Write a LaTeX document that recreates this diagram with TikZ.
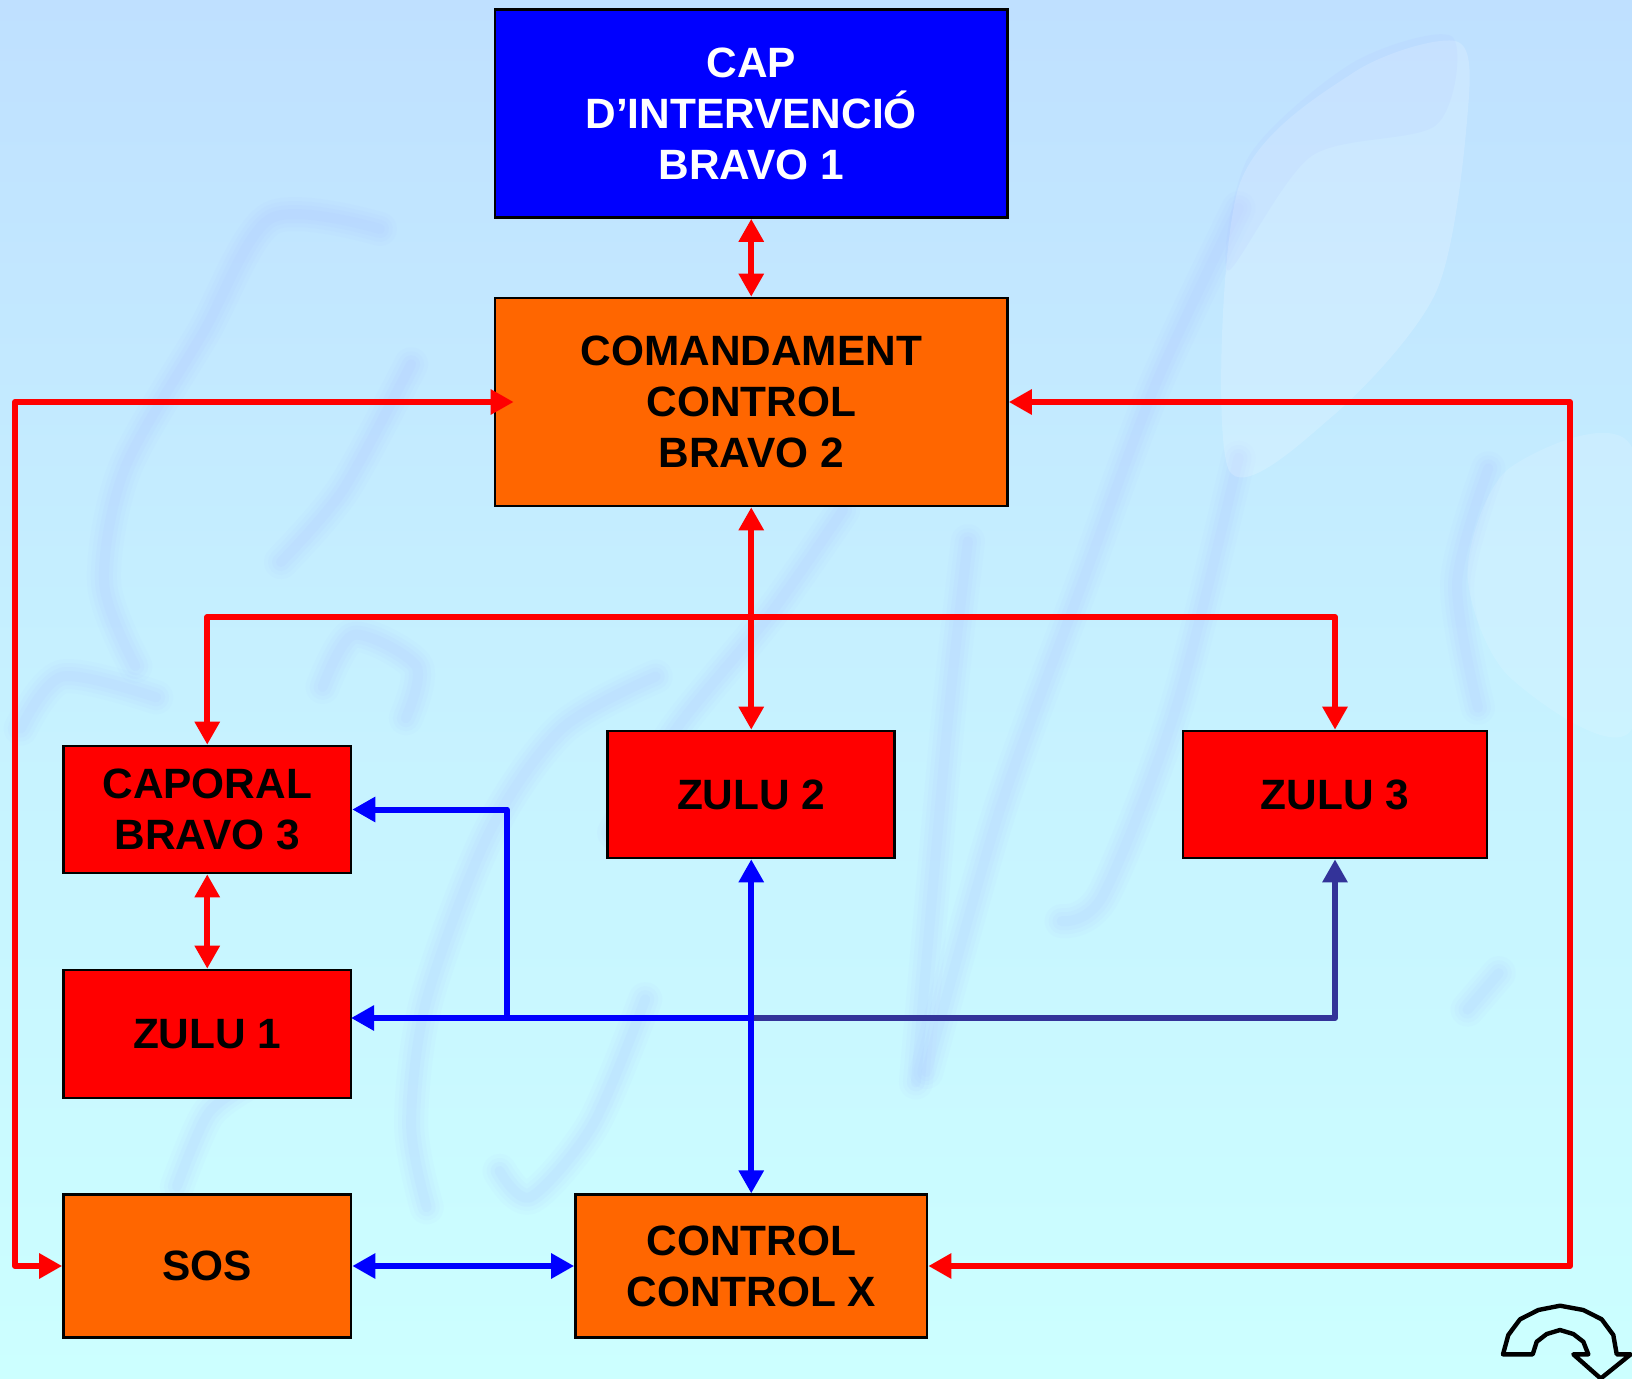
\documentclass[tikz,border=0pt]{standalone}
\usepackage{fontspec}
\setmainfont{Liberation Sans}
\usetikzlibrary{arrows.meta,calc}
\definecolor{orangebox}{HTML}{FF6600}
\definecolor{purebluebox}{HTML}{0000FF}
\definecolor{darkline}{HTML}{333399}
\definecolor{wm}{HTML}{A8B8FF}
\definecolor{bgtop}{HTML}{BFE0FF}
\definecolor{bgbot}{HTML}{CCFFFF}
\tikzset{
  boxbase/.style={draw=black,line width=1.3pt,inner sep=0pt,align=center,
    font=\fontsize{21.2}{25.5}\selectfont\bfseries,text=black},
  boxsize/.style 2 args={minimum width=#1*0.5pt,minimum height=#2*0.5pt},
  bluebox/.style={boxbase,fill=purebluebox,text=white},
  orbox/.style={boxbase,fill=orangebox},
  redbox/.style={boxbase,fill=red},
  link/.style={line width=3pt,line join=round,{Triangle[length=11.5pt,width=12pt]}-{Triangle[length=11.5pt,width=12pt]}},
  oneway/.style={line width=3pt,line join=round,-{Triangle[length=11.5pt,width=12pt]}},
  plain/.style={line width=3pt,line join=round},
}
\newcommand{\wmstroke}[1]{%
  \foreach \wd/\op in {17/.05,13/.06,9/.07,5/.08}{%
    \draw[wm,line width=\wd pt,opacity=\op,line cap=round,line join=round] plot[smooth] coordinates {#1};}}
\begin{document}
\begin{tikzpicture}[x=0.5pt,y=-0.5pt]
\useasboundingbox (0,0) rectangle (1632,1379);
\shade[top color=bgtop,bottom color=bgbot,middle color=bgbot!55!bgtop] (0,0) rectangle (1632,1379);
\begin{scope}
\clip (0,0) rectangle (1632,1379);
\begin{scope}[x=0.5204pt,y=-0.5204pt]
% watermark
\wmstroke{(365,220) (260,210) (195,320) (120,450) (100,560) (130,640)}
\wmstroke{(395,350) (330,470) (270,540)}
\wmstroke{(20,700) (60,650) (150,670)}
\wmstroke{(310,660) (340,610) (400,640) (390,690)}
\wmstroke{(630,650) (540,700) (470,800) (410,960) (395,1080) (410,1160)}
\wmstroke{(810,490) (740,590) (650,700) (590,800)}
\wmstroke{(620,960) (570,1080) (510,1150) (480,1125)}
\wmstroke{(930,520) (910,700) (880,1040)}
\wmstroke{(1190,200) (1110,370) (1040,560) (960,780) (890,1030)}
\wmstroke{(1190,440) (1130,680) (1060,860) (1020,885)}
\wmstroke{(1430,450) (1400,560) (1420,680)}
\wmstroke{(170,1140) (200,1070) (240,1040)}
\wmstroke{(1410,970) (1440,935)}
\fill[white,opacity=.18] plot[smooth cycle] coordinates {(1190,180) (1300,70) (1400,40) (1410,110) (1380,280) (1280,400) (1180,450)};
\fill[wm,opacity=.10] plot[smooth cycle] coordinates {(1200,150) (1300,60) (1395,35) (1380,120) (1260,150) (1180,260)};
\fill[white,opacity=.12] plot[smooth cycle] coordinates {(1450,450) (1568,430) (1568,700) (1450,650) (1410,550)};
\end{scope}
\end{scope}

% boxes
\node[bluebox,boxsize={512.5}{208}] (cap) at (751.25,113.5) {CAP\\D’INTERVENCIÓ\\BRAVO 1};
\node[orbox,boxsize={512.5}{208}] (com) at (751.25,402) {COMANDAMENT\\CONTROL\\BRAVO 2};
\node[redbox,boxsize={287.5}{127}] (cpr) at (207.25,809.5) {CAPORAL\\BRAVO 3};
\node[redbox,boxsize={287}{127}] (zb) at (751.25,794.5) {ZULU 2};
\node[redbox,boxsize={304}{127}] (zc) at (1335,794.5) {ZULU 3};
\node[redbox,boxsize={287.5}{128}] (za) at (207.25,1034) {ZULU 1};
\node[orbox,boxsize={287.5}{142.5}] (sos) at (207.25,1266) {SOS};
\node[orbox,boxsize={351.5}{142.5}] (ctl) at (751.25,1266) {CONTROL\\CONTROL X};

% junctions
\coordinate (comin) at ($(com.west)+(20,0)$);
\coordinate (lefttop) at (15,402);
\coordinate (leftbot) at (15,1266);
\coordinate (righttop) at (1570,402);
\coordinate (rightbot) at (1570,1266);
\coordinate (barl) at (207.25,617);
\coordinate (barr) at (1335,617);
\coordinate (cprblue) at (507,809.5);
\coordinate (bluel) at (507,1018);
\coordinate (bluem) at (751.25,1018);
\coordinate (bluer) at (1335,1018);
\coordinate (zaeast) at (351,1018);

% red connectors
\draw[link,red] (cap.south) -- (com.north);
\draw[link,red] (com.south) -- (zb.north);
\draw[link,red] (cpr.north) -- (barl) -- (barr) -- (zc.north);
\draw[link,red] (cpr.south) -- (za.north);
\draw[link,red] (sos.west) -- (leftbot) -- (lefttop) -- (comin);
\draw[link,red] (com.east) -- (righttop) -- (rightbot) -- (ctl.east);

% blue connectors
\draw[oneway,darkline] (bluem) -- (bluer) -- (zc.south);
\draw[oneway,blue] (bluem) -- (zaeast);
\draw[oneway,blue] (bluel) -- (cprblue) -- (cpr.east);
\draw[link,blue] (zb.south) -- (ctl.north);
\draw[link,blue] (sos.east) -- (ctl.west);

% return icon
\draw[black,line width=2.2pt,line join=round,fill=bgbot]
  (1503,1354.3) -- (1508.3,1335) -- (1520,1319.3) -- (1538.3,1310) -- (1560,1305.7)
  -- (1583.3,1310) -- (1601.7,1319.3) -- (1613.3,1335) -- (1616.7,1354.3)
  -- (1630.7,1354.3) -- (1600.7,1378.5) -- (1573.3,1354.3) -- (1588.3,1354.3)
  -- (1583.3,1341.7) -- (1573.3,1334) -- (1560,1330) -- (1546.7,1334)
  -- (1536.7,1341.7) -- (1532.7,1354.3) -- cycle;
\end{tikzpicture}
\end{document}
